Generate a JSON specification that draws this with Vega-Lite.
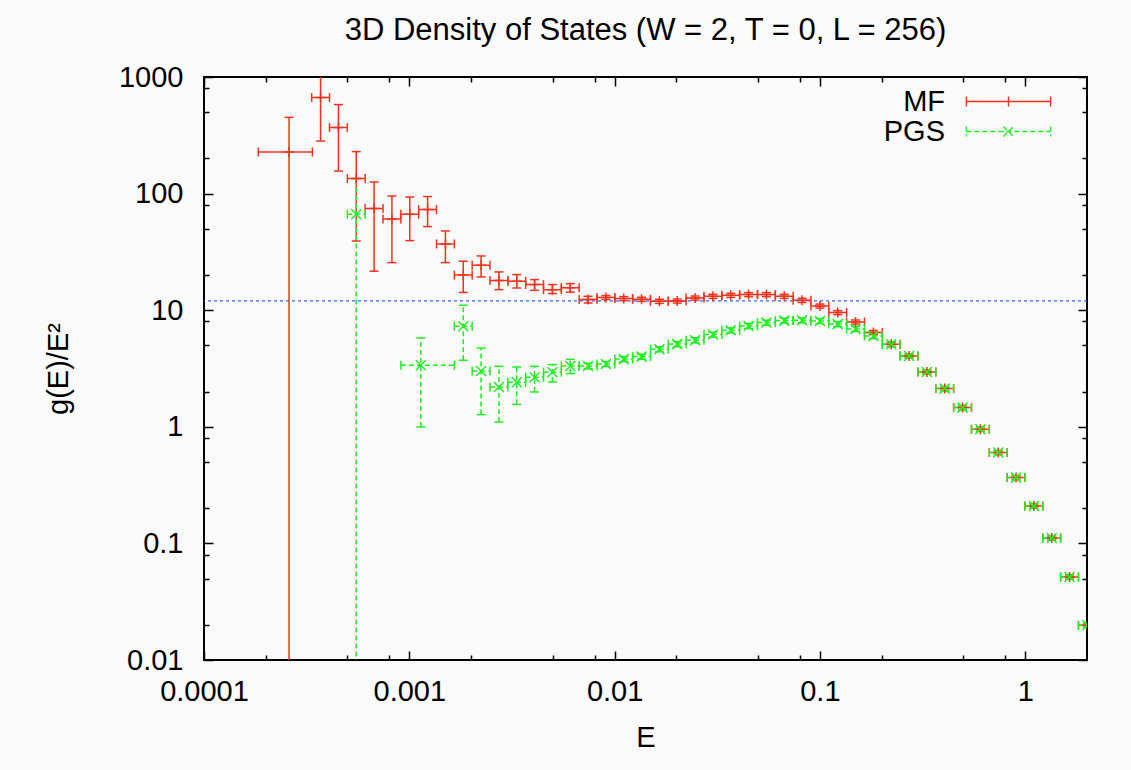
{
  "$schema": "https://vega.github.io/schema/vega-lite/v6.json",
  "width": 883,
  "height": 583,
  "autosize": {"type": "none"},
  "padding": {"left": 204, "top": 77, "right": 44, "bottom": 110},
  "background": "#fafafa",
  "title": {"text": "3D Density of States (W = 2, T = 0, L = 256)", "font": "Liberation Sans", "fontSize": 31, "fontWeight": "normal", "color": "black", "anchor": "middle", "baseline": "alphabetic", "offset": -8},
  "datasets": {
    "pts": [
      {"s": "MF", "E": 0.0002596, "lo": 0.0001839, "hi": 0.0003371, "g": 227.4, "gl": 0.001, "gh": 451},
      {"s": "MF", "E": 0.00036979, "lo": 0.0003346, "hi": 0.00040868, "g": 665.9, "gl": 282.6, "gh": 1500},
      {"s": "MF", "E": 0.00045166, "lo": 0.00040868, "hi": 0.00049916, "g": 368.1, "gl": 156.2, "gh": 579.9},
      {"s": "MF", "E": 0.00055166, "lo": 0.00049916, "hi": 0.00060967, "g": 134.5, "gl": 39.2, "gh": 229.2},
      {"s": "MF", "E": 0.00067379, "lo": 0.00060967, "hi": 0.00074466, "g": 74.4, "gl": 21.6, "gh": 125.8},
      {"s": "MF", "E": 0.00082297, "lo": 0.00074466, "hi": 0.00090953, "g": 60.6, "gl": 25.6, "gh": 95.4},
      {"s": "MF", "E": 0.0010052, "lo": 0.00090953, "hi": 0.0011109, "g": 66.5, "gl": 39.5, "gh": 93.5},
      {"s": "MF", "E": 0.0012277, "lo": 0.0011109, "hi": 0.0013569, "g": 72.9, "gl": 52.1, "gh": 94.3},
      {"s": "MF", "E": 0.0014996, "lo": 0.0013569, "hi": 0.0016573, "g": 37.0, "gl": 25.6, "gh": 47.8},
      {"s": "MF", "E": 0.0018316, "lo": 0.0016573, "hi": 0.0020242, "g": 20.0, "gl": 14.2, "gh": 26.3},
      {"s": "MF", "E": 0.0022371, "lo": 0.0020242, "hi": 0.0024724, "g": 24.3, "gl": 19.3, "gh": 29.2},
      {"s": "MF", "E": 0.0027324, "lo": 0.0024724, "hi": 0.0030197, "g": 18.0, "gl": 15.0, "gh": 21.3},
      {"s": "MF", "E": 0.0033373, "lo": 0.0030197, "hi": 0.0036883, "g": 17.7, "gl": 15.5, "gh": 20.2},
      {"s": "MF", "E": 0.0040762, "lo": 0.0036883, "hi": 0.0045049, "g": 16.6, "gl": 14.8, "gh": 18.3},
      {"s": "MF", "E": 0.0049787, "lo": 0.0045049, "hi": 0.0055023, "g": 15.0, "gl": 13.9, "gh": 16.6},
      {"s": "MF", "E": 0.006081, "lo": 0.0055023, "hi": 0.0067206, "g": 15.6, "gl": 14.3, "gh": 16.9},
      {"s": "MF", "E": 0.0074274, "lo": 0.0067206, "hi": 0.0082085, "g": 12.33, "gl": 11.53, "gh": 13.16},
      {"s": "MF", "E": 0.0090718, "lo": 0.0082085, "hi": 0.010026, "g": 12.83, "gl": 12.33, "gh": 13.34},
      {"s": "MF", "E": 0.01108, "lo": 0.010026, "hi": 0.012246, "g": 12.58, "gl": 12.08, "gh": 13.08},
      {"s": "MF", "E": 0.013534, "lo": 0.012246, "hi": 0.014957, "g": 12.41, "gl": 11.91, "gh": 12.91},
      {"s": "MF", "E": 0.01653, "lo": 0.014957, "hi": 0.018268, "g": 11.92, "gl": 11.44, "gh": 12.4},
      {"s": "MF", "E": 0.02019, "lo": 0.018268, "hi": 0.022313, "g": 11.99, "gl": 11.51, "gh": 12.47},
      {"s": "MF", "E": 0.02466, "lo": 0.022313, "hi": 0.027253, "g": 12.72, "gl": 12.21, "gh": 13.23},
      {"s": "MF", "E": 0.030119, "lo": 0.027253, "hi": 0.033287, "g": 13.16, "gl": 12.63, "gh": 13.69},
      {"s": "MF", "E": 0.036788, "lo": 0.033287, "hi": 0.040657, "g": 13.42, "gl": 12.88, "gh": 13.96},
      {"s": "MF", "E": 0.044933, "lo": 0.040657, "hi": 0.049659, "g": 13.61, "gl": 13.07, "gh": 14.15},
      {"s": "MF", "E": 0.054881, "lo": 0.049659, "hi": 0.060653, "g": 13.61, "gl": 13.07, "gh": 14.15},
      {"s": "MF", "E": 0.067032, "lo": 0.060653, "hi": 0.074082, "g": 13.16, "gl": 12.63, "gh": 13.69},
      {"s": "MF", "E": 0.081873, "lo": 0.074082, "hi": 0.090484, "g": 12.16, "gl": 11.67, "gh": 12.65},
      {"s": "MF", "E": 0.1, "lo": 0.090484, "hi": 0.11052, "g": 10.86, "gl": 10.43, "gh": 11.29},
      {"s": "MF", "E": 0.12214, "lo": 0.11052, "hi": 0.13499, "g": 9.54, "gl": 9.16, "gh": 9.92},
      {"s": "MF", "E": 0.14918, "lo": 0.13499, "hi": 0.16487, "g": 7.92, "gl": 7.6, "gh": 8.24},
      {"s": "MF", "E": 0.18221, "lo": 0.16487, "hi": 0.20138, "g": 6.44, "gl": 6.18, "gh": 6.7},
      {"s": "MF", "E": 0.22255, "lo": 0.20138, "hi": 0.24596, "g": 5.1, "gl": 4.9, "gh": 5.3},
      {"s": "MF", "E": 0.27183, "lo": 0.24596, "hi": 0.30042, "g": 4.05, "gl": 3.89, "gh": 4.21},
      {"s": "MF", "E": 0.33201, "lo": 0.30042, "hi": 0.36693, "g": 2.95, "gl": 2.83, "gh": 3.07},
      {"s": "MF", "E": 0.40552, "lo": 0.36693, "hi": 0.44817, "g": 2.126, "gl": 2.04, "gh": 2.21},
      {"s": "MF", "E": 0.4953, "lo": 0.44817, "hi": 0.5474, "g": 1.461, "gl": 1.403, "gh": 1.519},
      {"s": "MF", "E": 0.60497, "lo": 0.5474, "hi": 0.66859, "g": 0.952, "gl": 0.914, "gh": 0.99},
      {"s": "MF", "E": 0.73891, "lo": 0.66859, "hi": 0.81662, "g": 0.601, "gl": 0.577, "gh": 0.625},
      {"s": "MF", "E": 0.9025, "lo": 0.81662, "hi": 0.99742, "g": 0.3666, "gl": 0.352, "gh": 0.3813},
      {"s": "MF", "E": 1.1023, "lo": 0.99742, "hi": 1.2182, "g": 0.2093, "gl": 0.2009, "gh": 0.2177},
      {"s": "MF", "E": 1.3464, "lo": 1.2182, "hi": 1.488, "g": 0.1113, "gl": 0.1068, "gh": 0.1158},
      {"s": "MF", "E": 1.6445, "lo": 1.488, "hi": 1.8174, "g": 0.0515, "gl": 0.0494, "gh": 0.0536},
      {"s": "MF", "E": 2.0086, "lo": 1.8174, "hi": 2.2198, "g": 0.01984, "gl": 0.01905, "gh": 0.02063},
      {"s": "PGS", "E": 0.00055166, "lo": 0.00049916, "hi": 0.00060967, "g": 66.5, "gl": 0.001, "gh": 134.5},
      {"s": "PGS", "E": 0.0011378, "lo": 0.00090953, "hi": 0.0016573, "g": 3.37, "gl": 0.996, "gh": 5.78},
      {"s": "PGS", "E": 0.0018316, "lo": 0.0016573, "hi": 0.0020242, "g": 7.28, "gl": 3.72, "gh": 11.02},
      {"s": "PGS", "E": 0.0022371, "lo": 0.0020242, "hi": 0.0024724, "g": 3.01, "gl": 1.272, "gh": 4.74},
      {"s": "PGS", "E": 0.0027324, "lo": 0.0024724, "hi": 0.0030197, "g": 2.194, "gl": 1.099, "gh": 3.3},
      {"s": "PGS", "E": 0.0033373, "lo": 0.0030197, "hi": 0.0036883, "g": 2.408, "gl": 1.559, "gh": 3.26},
      {"s": "PGS", "E": 0.0040762, "lo": 0.0036883, "hi": 0.0045049, "g": 2.658, "gl": 1.989, "gh": 3.3},
      {"s": "PGS", "E": 0.0049787, "lo": 0.0045049, "hi": 0.0055023, "g": 2.934, "gl": 2.423, "gh": 3.415},
      {"s": "PGS", "E": 0.006081, "lo": 0.0055023, "hi": 0.0067206, "g": 3.322, "gl": 2.86, "gh": 3.79},
      {"s": "PGS", "E": 0.0074274, "lo": 0.0067206, "hi": 0.0082085, "g": 3.32, "gl": 3.14, "gh": 3.5},
      {"s": "PGS", "E": 0.0090718, "lo": 0.0082085, "hi": 0.010026, "g": 3.456, "gl": 3.28, "gh": 3.63},
      {"s": "PGS", "E": 0.01108, "lo": 0.010026, "hi": 0.012246, "g": 3.807, "gl": 3.62, "gh": 4.0},
      {"s": "PGS", "E": 0.013534, "lo": 0.012246, "hi": 0.014957, "g": 4.0, "gl": 3.8, "gh": 4.2},
      {"s": "PGS", "E": 0.01653, "lo": 0.014957, "hi": 0.018268, "g": 4.62, "gl": 4.39, "gh": 4.85},
      {"s": "PGS", "E": 0.02019, "lo": 0.018268, "hi": 0.022313, "g": 5.12, "gl": 4.86, "gh": 5.38},
      {"s": "PGS", "E": 0.02466, "lo": 0.022313, "hi": 0.027253, "g": 5.52, "gl": 5.24, "gh": 5.8},
      {"s": "PGS", "E": 0.030119, "lo": 0.027253, "hi": 0.033287, "g": 6.18, "gl": 5.87, "gh": 6.49},
      {"s": "PGS", "E": 0.036788, "lo": 0.033287, "hi": 0.040657, "g": 6.72, "gl": 6.38, "gh": 7.06},
      {"s": "PGS", "E": 0.044933, "lo": 0.040657, "hi": 0.049659, "g": 7.32, "gl": 6.95, "gh": 7.69},
      {"s": "PGS", "E": 0.054881, "lo": 0.049659, "hi": 0.060653, "g": 7.83, "gl": 7.44, "gh": 8.22},
      {"s": "PGS", "E": 0.067032, "lo": 0.060653, "hi": 0.074082, "g": 8.14, "gl": 7.73, "gh": 8.55},
      {"s": "PGS", "E": 0.081873, "lo": 0.074082, "hi": 0.090484, "g": 8.19, "gl": 7.78, "gh": 8.6},
      {"s": "PGS", "E": 0.1, "lo": 0.090484, "hi": 0.11052, "g": 8.08, "gl": 7.68, "gh": 8.48},
      {"s": "PGS", "E": 0.12214, "lo": 0.11052, "hi": 0.13499, "g": 7.6, "gl": 7.22, "gh": 7.98},
      {"s": "PGS", "E": 0.14918, "lo": 0.13499, "hi": 0.16487, "g": 6.9, "gl": 6.56, "gh": 7.25},
      {"s": "PGS", "E": 0.18221, "lo": 0.16487, "hi": 0.20138, "g": 6.0, "gl": 5.7, "gh": 6.3},
      {"s": "PGS", "E": 0.22255, "lo": 0.20138, "hi": 0.24596, "g": 5.1, "gl": 4.85, "gh": 5.36},
      {"s": "PGS", "E": 0.27183, "lo": 0.24596, "hi": 0.30042, "g": 4.05, "gl": 3.89, "gh": 4.21},
      {"s": "PGS", "E": 0.33201, "lo": 0.30042, "hi": 0.36693, "g": 2.95, "gl": 2.83, "gh": 3.07},
      {"s": "PGS", "E": 0.40552, "lo": 0.36693, "hi": 0.44817, "g": 2.126, "gl": 2.04, "gh": 2.21},
      {"s": "PGS", "E": 0.4953, "lo": 0.44817, "hi": 0.5474, "g": 1.461, "gl": 1.403, "gh": 1.519},
      {"s": "PGS", "E": 0.60497, "lo": 0.5474, "hi": 0.66859, "g": 0.952, "gl": 0.914, "gh": 0.99},
      {"s": "PGS", "E": 0.73891, "lo": 0.66859, "hi": 0.81662, "g": 0.601, "gl": 0.577, "gh": 0.625},
      {"s": "PGS", "E": 0.9025, "lo": 0.81662, "hi": 0.99742, "g": 0.3666, "gl": 0.352, "gh": 0.3813},
      {"s": "PGS", "E": 1.1023, "lo": 0.99742, "hi": 1.2182, "g": 0.2093, "gl": 0.2009, "gh": 0.2177},
      {"s": "PGS", "E": 1.3464, "lo": 1.2182, "hi": 1.488, "g": 0.1113, "gl": 0.1068, "gh": 0.1158},
      {"s": "PGS", "E": 1.6445, "lo": 1.488, "hi": 1.8174, "g": 0.0515, "gl": 0.0494, "gh": 0.0536},
      {"s": "PGS", "E": 2.0086, "lo": 1.8174, "hi": 2.2198, "g": 0.01984, "gl": 0.01905, "gh": 0.02063}
    ]
  },
  "data": {"name": "pts"},
  "resolve": {"axis": {"x": "independent", "y": "independent"}},
  "layer": [
    {
      "data": {"values": [{"ref": 12}]},
      "mark": {"type": "rule", "color": "#3366ff", "strokeDash": [3, 3], "strokeWidth": 1.3},
      "encoding": {
        "y": {"field": "ref", "type": "quantitative", "scale": {"type": "log", "domain": [0.01, 1000], "nice": false}, "axis": null}
      }
    },
    {
      "mark": {"type": "rule", "strokeWidth": 1.5, "clip": true},
      "encoding": {
        "x": {"field": "lo", "type": "quantitative", "scale": {"type": "log", "domain": [0.0001, 2], "nice": false},
          "axis": {"orient": "bottom", "values": [0.0001, 0.0002, 0.0005, 0.0008, 0.001, 0.002, 0.005, 0.008, 0.01, 0.02, 0.05, 0.08, 0.1, 0.2, 0.5, 0.8, 1],
            "format": "~g", "labelExpr": "abs(log(datum.value)/LN10 - round(log(datum.value)/LN10)) < 0.01 ? datum.label : ''",
            "tickSize": {"condition": {"test": "abs(log(datum.value)/LN10 - round(log(datum.value)/LN10)) < 0.01", "value": -9}, "value": -5},
            "labelPadding": 26, "labelBaseline": "top", "title": "E", "titlePadding": 13}},
        "x2": {"field": "hi"},
        "y": {"field": "g", "type": "quantitative", "scale": {"type": "log", "domain": [0.01, 1000], "nice": false},
          "axis": {"orient": "left", "values": [0.01, 0.02, 0.05, 0.08, 0.1, 0.2, 0.5, 0.8, 1, 2, 5, 8, 10, 20, 50, 80, 100, 200, 500, 800, 1000],
            "format": "~g", "labelExpr": "abs(log(datum.value)/LN10 - round(log(datum.value)/LN10)) < 0.01 ? datum.label : ''",
            "tickSize": {"condition": {"test": "abs(log(datum.value)/LN10 - round(log(datum.value)/LN10)) < 0.01", "value": -9}, "value": -5},
            "labelPadding": 30, "labelBaseline": "middle", "title": "g(E)/E²", "titlePadding": 45}},
        "color": {"field": "s", "type": "nominal", "scale": {"domain": ["MF", "PGS"], "range": ["#f5321e", "#22ee22"]},
          "legend": {"title": null, "orient": "none", "legendX": 790, "legendY": 10, "padding": 0, "rowPadding": 0,
            "labelFont": "Liberation Sans", "labelFontSize": 29, "labelColor": "black", "labelAlign": "right", "labelOffset": -78,
            "symbolSize": 71, "symbolStrokeWidth": 1.4,
            "symbolType": "M-10,0L10,0M-10,-1.2L-10,1.2M10,-1.2L10,1.2M0,-1.2L0,1.2",
            "encode": {"symbols": {"update": {
              "shape": {"signal": "datum.value === 'PGS' ? 'M-10,0L10,0M-10,-1.2L-10,1.2M10,-1.2L10,1.2M-1.2,-1.2L1.2,1.2M-1.2,1.2L1.2,-1.2' : 'M-10,0L10,0M-10,-1.2L-10,1.2M10,-1.2L10,1.2M0,-1.2L0,1.2'"},
              "strokeDash": {"signal": "datum.value === 'PGS' ? [5,3] : [1,0]"},
              "fill": {"value": "transparent"}}}}}},
        "strokeDash": {"field": "s", "type": "nominal", "scale": {"domain": ["MF", "PGS"], "range": [[1, 0], [5, 3]]}, "legend": null}
      }
    },
    {
      "mark": {"type": "rule", "strokeWidth": 1.5, "clip": true},
      "encoding": {
        "x": {"field": "E", "type": "quantitative", "scale": {"type": "log", "domain": [0.0001, 2], "nice": false},
          "axis": {"orient": "top", "values": [0.0001, 0.0002, 0.0005, 0.0008, 0.001, 0.002, 0.005, 0.008, 0.01, 0.02, 0.05, 0.08, 0.1, 0.2, 0.5, 0.8, 1],
            "labels": false, "title": null,
            "tickSize": {"condition": {"test": "abs(log(datum.value)/LN10 - round(log(datum.value)/LN10)) < 0.01", "value": -9}, "value": -5}}},
        "y": {"field": "gl", "type": "quantitative", "scale": {"type": "log", "domain": [0.01, 1000], "nice": false},
          "axis": {"orient": "right", "values": [0.01, 0.02, 0.05, 0.08, 0.1, 0.2, 0.5, 0.8, 1, 2, 5, 8, 10, 20, 50, 80, 100, 200, 500, 800, 1000],
            "labels": false, "title": null,
            "tickSize": {"condition": {"test": "abs(log(datum.value)/LN10 - round(log(datum.value)/LN10)) < 0.01", "value": -9}, "value": -5}}},
        "y2": {"field": "gh"},
        "color": {"field": "s", "type": "nominal", "scale": {"domain": ["MF", "PGS"], "range": ["#f5321e", "#22ee22"]}, "legend": null},
        "strokeDash": {"field": "s", "type": "nominal", "scale": {"domain": ["MF", "PGS"], "range": [[1, 0], [5, 3]]}, "legend": null}
      }
    },
    {
      "mark": {"type": "point", "shape": "M0,-1L0,1", "size": 81, "filled": false, "strokeWidth": 1.5, "clip": true, "opacity": 1},
      "encoding": {
        "x": {"field": "lo", "type": "quantitative", "scale": {"type": "log", "domain": [0.0001, 2], "nice": false}, "axis": null},
        "y": {"field": "g", "type": "quantitative", "scale": {"type": "log", "domain": [0.01, 1000], "nice": false}, "axis": null},
        "color": {"field": "s", "type": "nominal", "scale": {"domain": ["MF", "PGS"], "range": ["#f5321e", "#22ee22"]}, "legend": null}
      }
    },
    {
      "mark": {"type": "point", "shape": "M0,-1L0,1", "size": 81, "filled": false, "strokeWidth": 1.5, "clip": true, "opacity": 1},
      "encoding": {
        "x": {"field": "hi", "type": "quantitative", "scale": {"type": "log", "domain": [0.0001, 2], "nice": false}, "axis": null},
        "y": {"field": "g", "type": "quantitative", "scale": {"type": "log", "domain": [0.01, 1000], "nice": false}, "axis": null},
        "color": {"field": "s", "type": "nominal", "scale": {"domain": ["MF", "PGS"], "range": ["#f5321e", "#22ee22"]}, "legend": null}
      }
    },
    {
      "mark": {"type": "point", "shape": "M-1,0L1,0", "size": 81, "filled": false, "strokeWidth": 1.5, "clip": true, "opacity": 1},
      "encoding": {
        "x": {"field": "E", "type": "quantitative", "scale": {"type": "log", "domain": [0.0001, 2], "nice": false}, "axis": null},
        "y": {"field": "gl", "type": "quantitative", "scale": {"type": "log", "domain": [0.01, 1000], "nice": false}, "axis": null},
        "color": {"field": "s", "type": "nominal", "scale": {"domain": ["MF", "PGS"], "range": ["#f5321e", "#22ee22"]}, "legend": null}
      }
    },
    {
      "mark": {"type": "point", "shape": "M-1,0L1,0", "size": 81, "filled": false, "strokeWidth": 1.5, "clip": true, "opacity": 1},
      "encoding": {
        "x": {"field": "E", "type": "quantitative", "scale": {"type": "log", "domain": [0.0001, 2], "nice": false}, "axis": null},
        "y": {"field": "gh", "type": "quantitative", "scale": {"type": "log", "domain": [0.01, 1000], "nice": false}, "axis": null},
        "color": {"field": "s", "type": "nominal", "scale": {"domain": ["MF", "PGS"], "range": ["#f5321e", "#22ee22"]}, "legend": null}
      }
    },
    {
      "transform": [{"filter": "datum.s === 'MF'"}],
      "mark": {"type": "point", "shape": "M-1,0L1,0M0,-1L0,1", "size": 100, "filled": false, "strokeWidth": 1.5, "clip": true, "opacity": 1, "color": "#f5321e"},
      "encoding": {
        "x": {"field": "E", "type": "quantitative", "scale": {"type": "log", "domain": [0.0001, 2], "nice": false}, "axis": null},
        "y": {"field": "g", "type": "quantitative", "scale": {"type": "log", "domain": [0.01, 1000], "nice": false}, "axis": null}
      }
    },
    {
      "transform": [{"filter": "datum.s === 'PGS'"}],
      "mark": {"type": "point", "shape": "M-1,-1L1,1M-1,1L1,-1", "size": 100, "filled": false, "strokeWidth": 1.5, "clip": true, "opacity": 1, "color": "#22ee22"},
      "encoding": {
        "x": {"field": "E", "type": "quantitative", "scale": {"type": "log", "domain": [0.0001, 2], "nice": false}, "axis": null},
        "y": {"field": "g", "type": "quantitative", "scale": {"type": "log", "domain": [0.01, 1000], "nice": false}, "axis": null}
      }
    }
  ],
  "config": {
    "view": {"stroke": "black", "strokeWidth": 2},
    "axis": {
      "domain": false, "grid": false, "tickColor": "black", "tickWidth": 1.5,
      "labelFont": "Liberation Sans", "labelFontSize": 29, "labelColor": "black",
      "labelFlush": false, "labelOverlap": false,
      "titleFont": "Liberation Sans", "titleFontSize": 29, "titleFontWeight": "normal", "titleColor": "black"
    }
  }
}
